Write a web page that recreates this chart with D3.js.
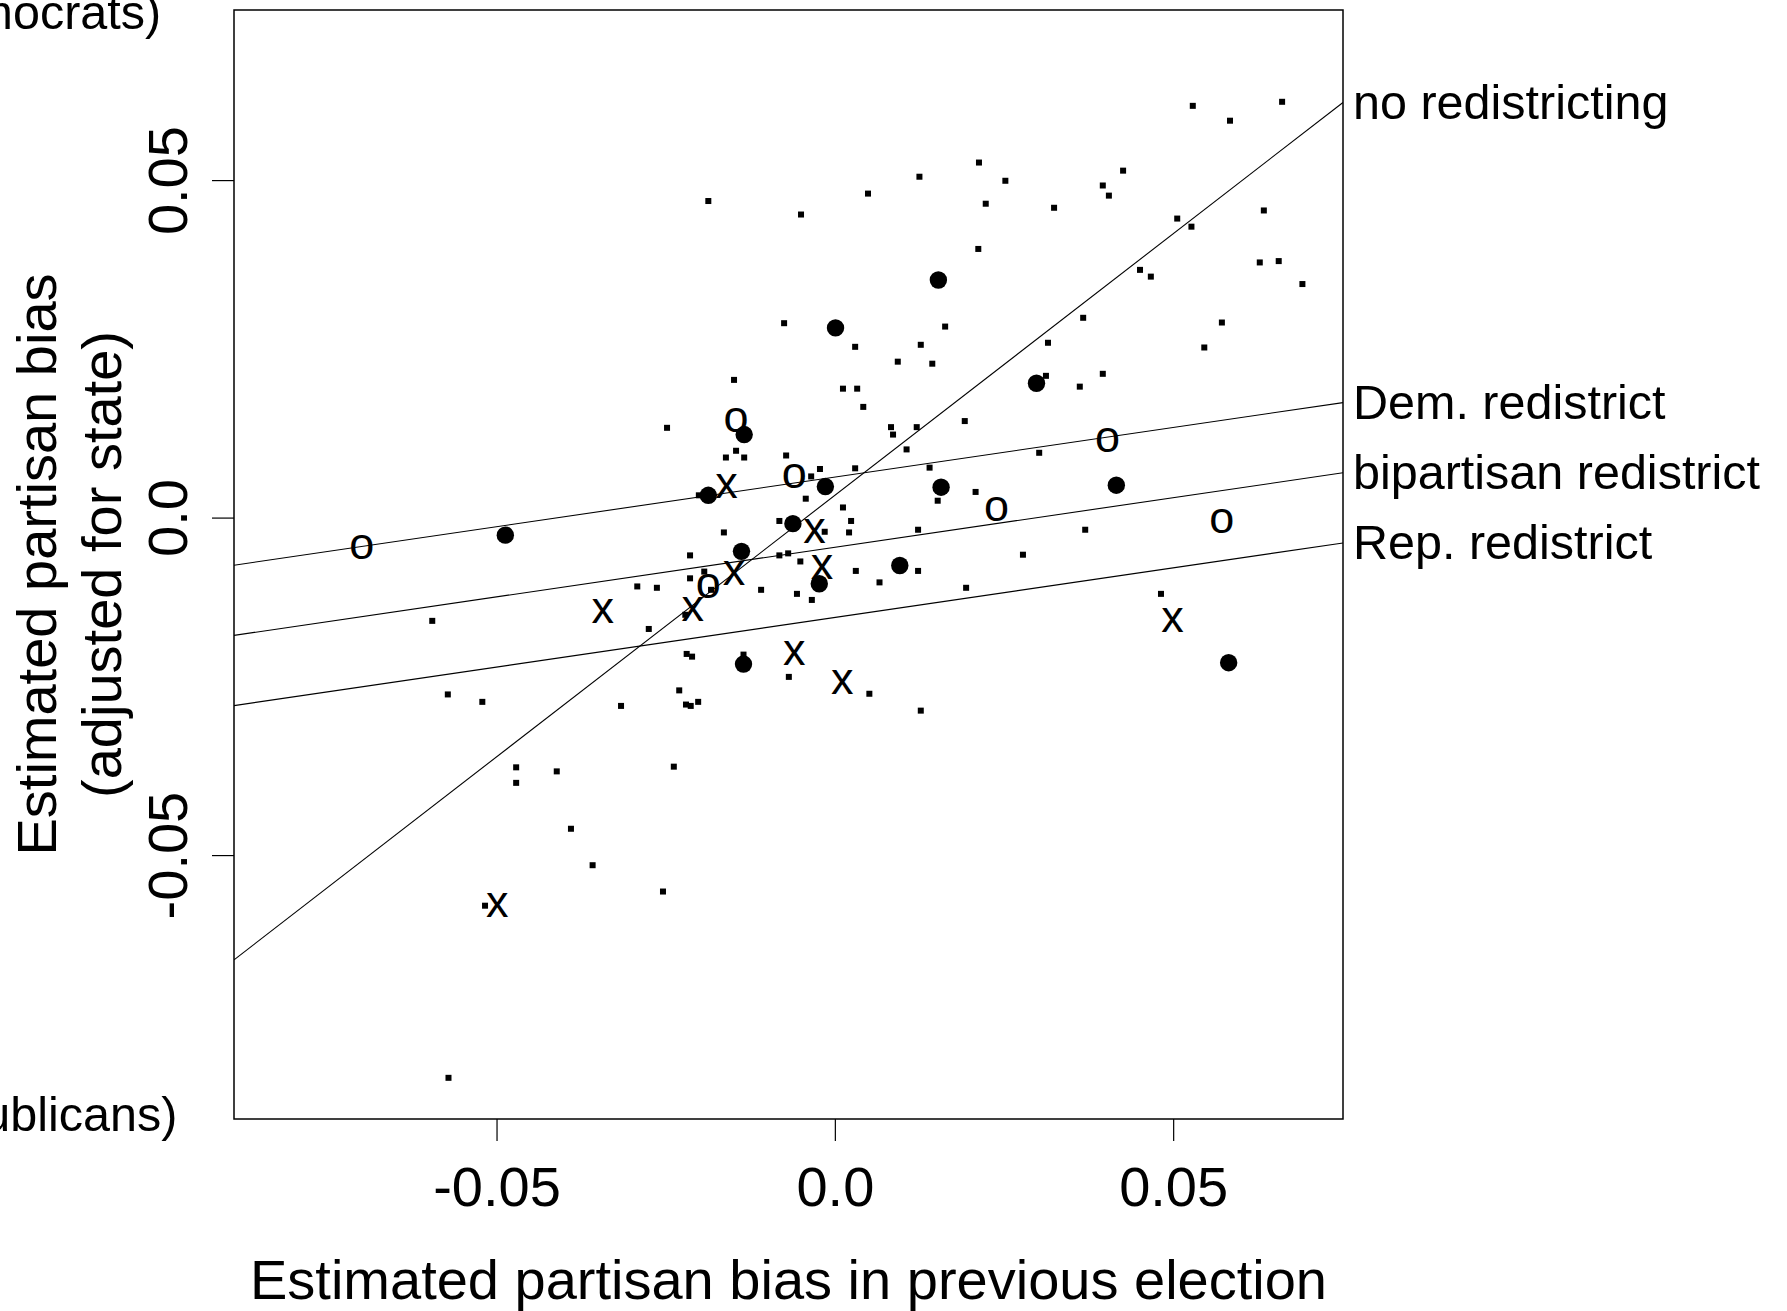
<!DOCTYPE html>
<html>
<head>
<meta charset="utf-8">
<script src="https://cdn.jsdelivr.net/npm/d3@7"></script>
<style>
  body { margin: 0; background: #fff; }
  text { font-family: "Liberation Sans", Arial, Helvetica, sans-serif; fill: #000; }
</style>
</head>
<body>
<svg width="1787" height="1311"></svg>
<script>
// tick values and labels
const xTicks = [-0.05, 0, 0.05];
const xTickLabels = ['-0.05', '0.0', '0.05'];
const yTicks = [-0.05, 0, 0.05];
const yTickLabels = ['-0.05', '0.0', '0.05'];

// fitted lines: y = a + b*x
const lineLabels = ['no redistricting', 'Dem. redistrict', 'bipartisan redistrict', 'Rep. redistrict'];
const lineIntercepts = [0.0033, 0.0060, -0.0044, -0.0148];
const lineSlopes = [0.775, 0.147, 0.147, 0.147];

// elections with no redistricting (small dots)
const dotPoints = [
  [-0.0187, 0.0469], [-0.0050, 0.0449], [-0.0075, 0.0288], [0.0030, 0.0253], [-0.0149, 0.0204],
  [0.0012, 0.0191], [0.0033, 0.0191],
  [0.0529, 0.0610], [0.0661, 0.0616], [0.0584, 0.0588], [0.0213, 0.0526], [0.0125, 0.0505],
  [0.0252, 0.0499], [0.0049, 0.0480], [0.0223, 0.0465], [0.0324, 0.0459], [0.0396, 0.0492],
  [0.0405, 0.0477], [0.0426, 0.0514], [0.0506, 0.0443], [0.0527, 0.0431], [0.0634, 0.0455],
  [0.0212, 0.0398], [0.0451, 0.0367], [0.0467, 0.0357], [0.0628, 0.0378], [0.0656, 0.0380],
  [0.0691, 0.0346], [0.0163, 0.0283], [0.0127, 0.0256], [0.0093, 0.0231], [0.0144, 0.0228],
  [0.0367, 0.0296], [0.0315, 0.0259], [0.0572, 0.0289], [0.0546, 0.0252], [0.0312, 0.0210],
  [0.0362, 0.0194], [0.0396, 0.0213], [0.0042, 0.0164], [0.0192, 0.0143],
  [-0.0248, 0.0133], [-0.0146, 0.0099], [-0.0161, 0.0089], [-0.0134, 0.0089], [-0.0072, 0.0092],
  [-0.0022, 0.0072], [-0.0035, 0.0061], [0.0030, 0.0073], [-0.0201, 0.0033], [-0.0043, 0.0028],
  [0.0012, 0.0015], [-0.0082, -0.0005], [-0.0015, -0.0021], [0.0024, -0.0005], [0.0021, -0.0022],
  [-0.0164, -0.0022], [-0.0214, -0.0056], [-0.0082, -0.0056], [-0.0069, -0.0053], [-0.0051, -0.0065],
  [0.0031, -0.0079], [-0.0193, -0.0080], [-0.0214, -0.0090], [-0.0183, -0.0107], [-0.0292, -0.0102],
  [-0.0263, -0.0104], [-0.0109, -0.0107], [-0.0056, -0.0113], [-0.0034, -0.0122], [-0.0221, -0.0144],
  [-0.0595, -0.0153], [-0.0275, -0.0165], [-0.0219, -0.0202], [-0.0211, -0.0206], [-0.0135, -0.0203],
  [-0.0068, -0.0236], [-0.0572, -0.0262], [-0.0521, -0.0273], [-0.0316, -0.0279], [-0.0230, -0.0256],
  [-0.0220, -0.0277], [-0.0213, -0.0279], [-0.0202, -0.0273], [-0.0471, -0.0370], [-0.0411, -0.0376],
  [-0.0238, -0.0369],
  [0.0083, 0.0134], [0.0086, 0.0123], [0.0121, 0.0134], [0.0106, 0.0101], [0.0302, 0.0096],
  [0.0140, 0.0074], [0.0152, 0.0025], [0.0208, 0.0038], [0.0123, -0.0018], [0.0370, -0.0018],
  [0.0123, -0.0079], [0.0066, -0.0096], [0.0194, -0.0104], [0.0278, -0.0055], [0.0482, -0.0113],
  [0.0051, -0.0261], [0.0127, -0.0286],
  [-0.0471, -0.0393], [-0.0390, -0.0461], [-0.0358, -0.0515], [-0.0254, -0.0554], [-0.0517, -0.0575],
  [-0.0571, -0.0830]
];

// redistricting types
const bipartisanPoints = [
  [0.0001, 0.0281], [0.0153, 0.0352], [0.0298, 0.0199], [-0.0134, 0.0123], [-0.0014, 0.0046],
  [-0.0187, 0.0033], [-0.0487, -0.0026], [-0.0062, -0.0009], [-0.0138, -0.0050], [-0.0023, -0.0098],
  [-0.0135, -0.0217], [0.0157, 0.0045], [0.0416, 0.0048], [0.0096, -0.0071], [0.0582, -0.0215]
];
const demPoints = [
  [-0.0699, -0.0044], [-0.0146, 0.0144], [-0.0060, 0.0061], [-0.0187, -0.0102],
  [0.0403, 0.0114], [0.0239, 0.0012], [0.0572, -0.0005]
];
const repPoints = [
  [-0.0160, 0.0046], [-0.0030, -0.0021], [-0.0019, -0.0073], [-0.0149, -0.0083], [-0.0343, -0.0139],
  [-0.0210, -0.0136], [-0.0060, -0.0201], [0.0011, -0.0244], [0.0499, -0.0152], [-0.0499, -0.0574]
];

const svg = d3.select('svg');

const plot = { left: 234, top: 10, right: 1343, bottom: 1119 };

const xScale = d3.scaleLinear()
  .domain([-0.0888, 0.0751])
  .range([plot.left, plot.right]);

const yScale = d3.scaleLinear()
  .domain([-0.0891, 0.0752])
  .range([plot.bottom, plot.top]);

svg.append('clipPath').attr('id', 'clip')
  .append('rect')
    .attr('x', plot.left).attr('y', plot.top)
    .attr('width', plot.right - plot.left).attr('height', plot.bottom - plot.top);

// axes
const xAxis = d3.axisBottom(xScale)
  .tickValues(xTicks)
  .tickFormat((d, i) => xTickLabels[i])
  .tickSize(22);

const xAxisG = svg.append('g')
  .attr('transform', `translate(0,${plot.bottom})`)
  .call(xAxis);
xAxisG.select('.domain').remove();
xAxisG.selectAll('line').attr('stroke', '#000').attr('stroke-width', 1.2);
xAxisG.selectAll('text')
  .attr('y', 87).attr('dy', 0)
  .style('font-size', '56px')
  .style('font-family', '"Liberation Sans", Arial, sans-serif')
  .attr('fill', '#000');

const yAxis = d3.axisLeft(yScale)
  .tickValues(yTicks)
  .tickFormat((d, i) => yTickLabels[i])
  .tickSize(22);

const yAxisG = svg.append('g')
  .attr('transform', `translate(${plot.left},0)`)
  .call(yAxis);
yAxisG.select('.domain').remove();
yAxisG.selectAll('line').attr('stroke', '#000').attr('stroke-width', 1.2);
yAxisG.selectAll('text')
  .attr('x', 0).attr('y', 0).attr('dy', 0)
  .attr('text-anchor', 'middle')
  .attr('transform', 'translate(-47,0) rotate(-90)')
  .style('font-size', '56px')
  .style('font-family', '"Liberation Sans", Arial, sans-serif')
  .attr('fill', '#000');

// box
svg.append('rect')
  .attr('x', plot.left).attr('y', plot.top)
  .attr('width', plot.right - plot.left).attr('height', plot.bottom - plot.top)
  .attr('fill', 'none').attr('stroke', '#000').attr('stroke-width', 1.5);

// axis titles
svg.append('text')
  .attr('x', (plot.left + plot.right) / 2)
  .attr('y', 1299)
  .attr('text-anchor', 'middle')
  .style('font-size', '56px')
  .text('Estimated partisan bias in previous election');

const yMid = (plot.top + plot.bottom) / 2;
svg.append('text')
  .attr('transform', `translate(56,${yMid}) rotate(-90)`)
  .attr('text-anchor', 'middle')
  .style('font-size', '56px')
  .text('Estimated partisan bias');
svg.append('text')
  .attr('transform', `translate(121,${yMid}) rotate(-90)`)
  .attr('text-anchor', 'middle')
  .style('font-size', '56px')
  .text('(adjusted for state)');

svg.append('text')
  .attr('x', -45).attr('y', 29)
  .attr('text-anchor', 'middle')
  .style('font-size', '48.5px')
  .text('(favors Democrats)');
svg.append('text')
  .attr('x', -45).attr('y', 1131)
  .attr('text-anchor', 'middle')
  .style('font-size', '48.5px')
  .text('(favors Republicans)');

// fitted lines
const [x0, x1] = xScale.domain();
const lineGen = d3.line()
  .x(d => xScale(d[0]))
  .y(d => yScale(d[1]));

const lineData = lineLabels.map((label, i) => ({
  label,
  pts: [x0, x1].map(x => [x, lineIntercepts[i] + lineSlopes[i] * x])
}));

svg.append('g').attr('clip-path', 'url(#clip)')
  .selectAll('path')
  .data(lineData)
  .join('path')
    .attr('d', d => lineGen(d.pts))
    .attr('fill', 'none')
    .attr('stroke', '#000')
    .attr('stroke-width', 1.1);

svg.append('g')
  .selectAll('text')
  .data(lineData)
  .join('text')
    .attr('x', plot.right + 10)
    .attr('y', d => yScale(d.pts[1][1]) + 16.5)
    .style('font-size', '48.5px')
    .text(d => d.label);

// points
const pointsG = svg.append('g').attr('clip-path', 'url(#clip)');

pointsG.selectAll('rect.dot')
  .data(dotPoints)
  .join('rect')
    .attr('class', 'dot')
    .attr('x', d => xScale(d[0]) - 3)
    .attr('y', d => yScale(d[1]) - 3)
    .attr('width', 6)
    .attr('height', 6)
    .attr('fill', '#000');

pointsG.selectAll('circle')
  .data(bipartisanPoints)
  .join('circle')
    .attr('cx', d => xScale(d[0]))
    .attr('cy', d => yScale(d[1]))
    .attr('r', 8.7)
    .attr('fill', '#000');

pointsG.selectAll('text.dem')
  .data(demPoints)
  .join('text')
    .attr('class', 'dem')
    .attr('x', d => xScale(d[0]))
    .attr('y', d => yScale(d[1]))
    .attr('dy', '0.26em')
    .attr('text-anchor', 'middle')
    .style('font-size', '45px')
    .text('o');

pointsG.selectAll('text.rep')
  .data(repPoints)
  .join('text')
    .attr('class', 'rep')
    .attr('x', d => xScale(d[0]))
    .attr('y', d => yScale(d[1]))
    .attr('dy', '0.26em')
    .attr('text-anchor', 'middle')
    .style('font-size', '45px')
    .text('x');
</script>
</body>
</html>
